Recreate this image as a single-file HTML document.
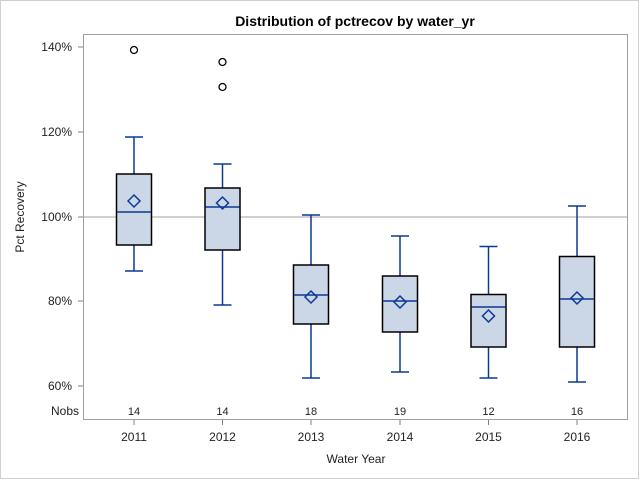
<!DOCTYPE html>
<html><head><style>body{margin:0;background:#fff}svg{display:block}</style></head><body>
<svg width="640" height="480" xmlns="http://www.w3.org/2000/svg" font-family="Liberation Sans, Arial, sans-serif">
<rect x="0.5" y="0.5" width="638" height="478" fill="#fff" stroke="#d0d0d0"/>
<text x="355" y="26" font-size="14" font-weight="bold" text-anchor="middle">Distribution of pctrecov by water_yr</text>
<rect x="83.5" y="34.5" width="544" height="385" fill="none" stroke="#a0a0a0"/>
<line x1="84" y1="217" x2="627" y2="217" stroke="#a0a0a0"/>
<g stroke="#808080"><line x1="78" y1="47" x2="83" y2="47"/><line x1="78" y1="132" x2="83" y2="132"/><line x1="78" y1="217" x2="83" y2="217"/><line x1="78" y1="301" x2="83" y2="301"/><line x1="78" y1="386" x2="83" y2="386"/>
<line x1="134" y1="420" x2="134" y2="425"/><line x1="222.5" y1="420" x2="222.5" y2="425"/><line x1="311" y1="420" x2="311" y2="425"/><line x1="400" y1="420" x2="400" y2="425"/><line x1="488.5" y1="420" x2="488.5" y2="425"/><line x1="577" y1="420" x2="577" y2="425"/></g>
<g font-size="12" fill="#222" text-anchor="end"><text x="72" y="51">140%</text><text x="72" y="136">120%</text><text x="72" y="221">100%</text><text x="72" y="305">80%</text><text x="72" y="390">60%</text><text x="79" y="415">Nobs</text></g>
<g font-size="11" fill="#222" text-anchor="middle"><text x="134" y="415">14</text><text x="222.5" y="415">14</text><text x="311" y="415">18</text><text x="400" y="415">19</text><text x="488.5" y="415">12</text><text x="577" y="415">16</text></g>
<g font-size="12" fill="#222" text-anchor="middle"><text x="134" y="441">2011</text><text x="222.5" y="441">2012</text><text x="311" y="441">2013</text><text x="400" y="441">2014</text><text x="488.5" y="441">2015</text><text x="577" y="441">2016</text>
<text x="356" y="463">Water Year</text></g>
<text transform="translate(24,217) rotate(-90)" font-size="12" fill="#222" text-anchor="middle">Pct Recovery</text>
<g stroke="#0a3a94" stroke-width="1.5" fill="none">
<path d="M134 137V174M134 245V271M125 137H143M125 271H143"/>
<path d="M222.5 164V188M222.5 250V305M213.5 164H231.5M213.5 305H231.5"/>
<path d="M311 215V265M311 324V378M302 215H320M302 378H320"/>
<path d="M400 236V276M400 332V372M391 236H409M391 372H409"/>
<path d="M488.5 246.5V294.5M488.5 347V378M479.5 246.5H497.5M479.5 378H497.5"/>
<path d="M577 206V256.5M577 347V382M568 206H586M568 382H586"/>
</g>
<g fill="#cbd6e6" stroke="#000" stroke-width="1.5">
<rect x="116.5" y="174" width="35" height="71"/>
<rect x="205" y="188" width="35" height="62"/>
<rect x="293.5" y="265" width="35" height="59"/>
<rect x="382.5" y="276" width="35" height="56"/>
<rect x="471" y="294.5" width="35" height="52.5"/>
<rect x="559.5" y="256.5" width="35" height="90.5"/>
</g>
<g stroke="#0a3a94" stroke-width="1.5" fill="none">
<path d="M117 212H151M205.5 207H239.5M294 295H328M383 301H417M471.5 307H505.5M560 299H594"/>
<path d="M134 195l6 6-6 6-6-6z"/><path d="M222.5 197l6 6-6 6-6-6z"/><path d="M311 291l6 6-6 6-6-6z"/><path d="M400 296l6 6-6 6-6-6z"/><path d="M488.5 310l6 6-6 6-6-6z"/><path d="M577 292l6 6-6 6-6-6z"/>
</g>
<g fill="none" stroke="#000" stroke-width="1.3"><circle cx="134" cy="50" r="3.5"/><circle cx="222.5" cy="62" r="3.5"/><circle cx="222.5" cy="87" r="3.5"/></g>
</svg>
</body></html>
